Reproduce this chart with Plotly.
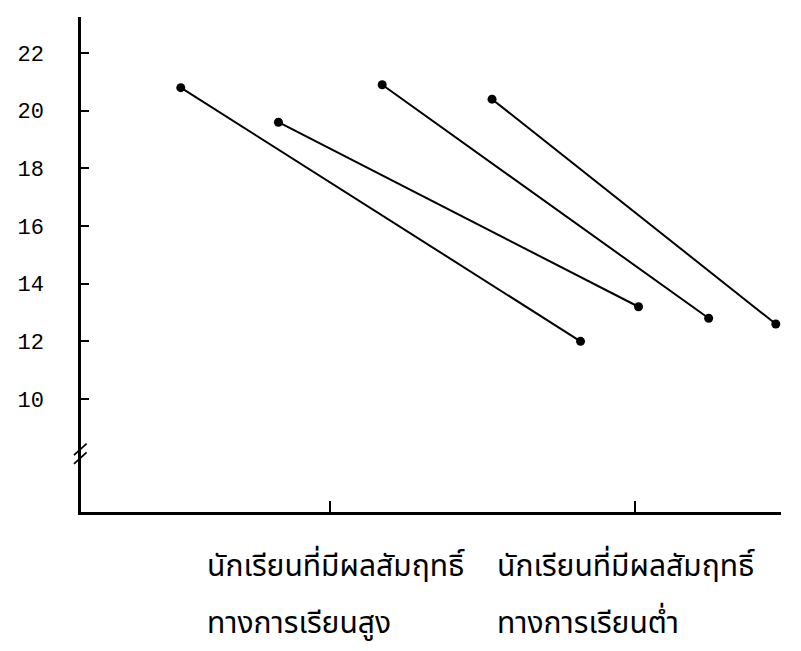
import plotly.graph_objects as go

# Data: four pre/post line segments (x positions in axis units, y values)
series_names = ["ชุดที่ 1", "ชุดที่ 2", "ชุดที่ 3", "ชุดที่ 4"]
x_start = [0.51, 0.83, 1.17, 1.53]
x_end = [1.82, 2.01, 2.24, 2.46]
y_start = [20.8, 19.6, 20.9, 20.4]
y_end = [12.0, 13.2, 12.8, 12.6]

y_ticks = [10, 12, 14, 16, 18, 20, 22]
x_ticks = [1, 2]
group_line1 = ["นักเรียนที่มีผลสัมฤทธิ์", "นักเรียนที่มีผลสัมฤทธิ์"]
group_line2 = ["ทางการเรียนสูง", "ทางการเรียนต่ำ"]
label_left = [0.588, 1.540]

fig = go.Figure()
for i in range(len(series_names)):
    fig.add_trace(go.Scatter(
        x=[x_start[i], x_end[i]], y=[y_start[i], y_end[i]],
        mode="lines+markers", name=series_names[i],
        line=dict(color="black", width=2),
        marker=dict(color="black", size=9, symbol="circle"),
        showlegend=False,
    ))

thai_font = dict(family="Noto Sans Thai, Loma, Garuda, Tlwg Typo, sans-serif", size=30, color="black")
for i in range(len(x_ticks)):
    fig.add_annotation(x=label_left[i], y=0, xref="x", yref="paper", yshift=-55,
                       text=group_line1[i], showarrow=False, xanchor="left",
                       yanchor="middle", font=thai_font)
    fig.add_annotation(x=label_left[i], y=0, xref="x", yref="paper", yshift=-112,
                       text=group_line2[i], showarrow=False, xanchor="left",
                       yanchor="middle", font=thai_font)

# axis break mark on y axis
for dy in [0.0, 0.3]:
    fig.add_shape(type="line", xref="x domain", yref="y",
                  x0=-0.010, x1=0.008, y0=7.75 + dy, y1=8.15 + dy,
                  line=dict(color="black", width=1.8))

fig.update_layout(
    width=801, height=651,
    margin=dict(l=71, r=28, t=9, b=147),
    paper_bgcolor="white", plot_bgcolor="white",
    xaxis=dict(range=[0.183, 2.477], tickvals=x_ticks, ticktext=["", ""],
               ticks="inside", ticklen=11, tickwidth=2, tickcolor="black",
               showline=True, linecolor="black", linewidth=2.5,
               showgrid=False, zeroline=False),
    yaxis=dict(range=[6.08, 23.25], tickvals=y_ticks,
               ticks="inside", ticklen=8, tickwidth=1.5, tickcolor="black",
               showline=True, linecolor="black", linewidth=2.5,
               showgrid=False, zeroline=False, ticklabelstandoff=30,
               tickfont=dict(family="Liberation Mono", size=22, color="black")),
)

fig.write_html("out.html")
